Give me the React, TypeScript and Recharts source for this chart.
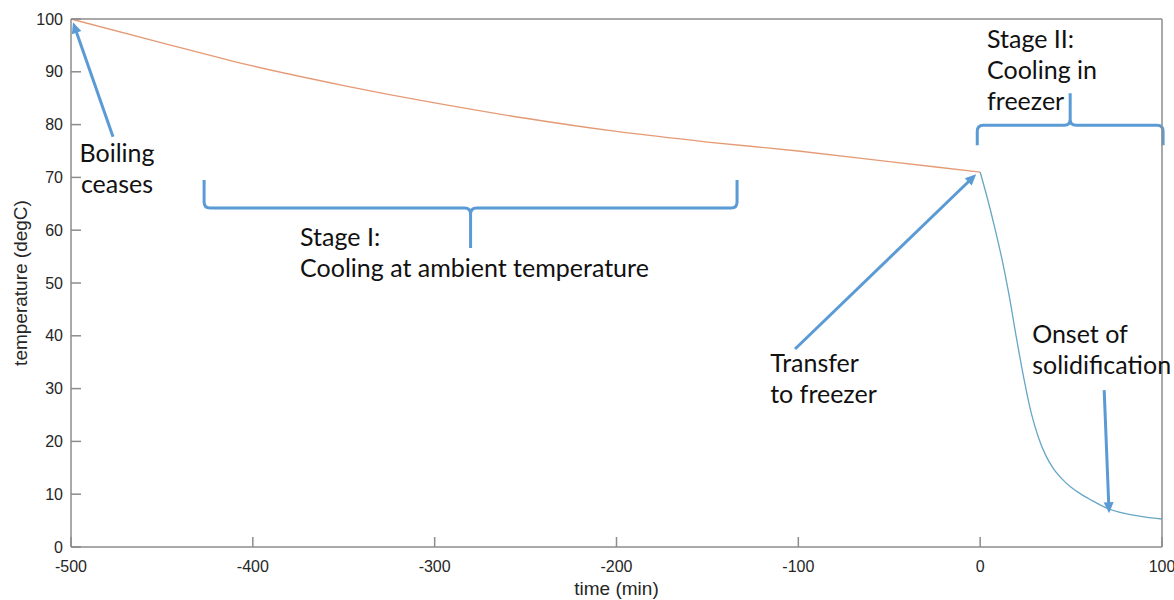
import React from "react";
import { LineChart, Line, XAxis, YAxis, ReferenceLine, ReferenceDot } from "recharts";

// Stage I: cooling at ambient temperature (time in min, temperature in degC)
const stage1Time = [-500, -450, -400, -350, -300, -250, -200, -150, -100, -50, 0];
const stage1Temp = [100, 95.5, 91.1, 87.4, 84.1, 81.2, 78.7, 76.7, 75.0, 73.0, 71.0];

// Stage II: cooling in freezer
const stage2Time = [0, 4, 8, 12, 16, 20, 24, 28, 32, 36, 40, 45, 50, 55, 60, 70, 80, 90, 100];
const stage2Temp = [71, 66, 60.5, 54.5, 47.5, 39.5, 32.0, 25.5, 20.8, 17.4, 15.0, 12.9, 11.3, 10.1, 9.1, 7.3, 6.3, 5.7, 5.3];

const xTicks = [-500, -400, -300, -200, -100, 0, 100];
const yTicks = [0, 10, 20, 30, 40, 50, 60, 70, 80, 90, 100];

// annotations, in data units
const arrows = [
    { from: { x: -476.9, y: 77.7 }, to: { x: -498.9, y: 99.4 } },
    { from: { x: -101.8, y: 37.5 }, to: { x: -2.2, y: 70.6 } },
    { from: { x: 68.2, y: 29.7 }, to: { x: 70.9, y: 6.4 } },
];

const braces = [
    { from: -426.8, to: -133.7, y: 64.2, ends: 28, tip: 40, dir: 1 },
    { from: -1.6, to: 100.6, y: 79.9, ends: 20, tip: 32, dir: -1 },
];

const notes = [
    { x: -474.7, y: 72.9, anchor: "middle", lines: ["Boiling", "ceases"] },
    { x: -374, y: 57.0, anchor: "start", lines: ["Stage I:", "Cooling at ambient temperature"] },
    { x: -115.5, y: 33.1, anchor: "start", lines: ["Transfer", "to freezer"] },
    { x: 3.8, y: 94.5, anchor: "start", lines: ["Stage II:", "Cooling in", "freezer"] },
    { x: 28.6, y: 38.6, anchor: "start", lines: ["Onset of", "solidification"] },
];

const stage1 = stage1Time.map((t, i) => ({ t, temp: stage1Temp[i] }));
const stage2 = stage2Time.map((t, i) => ({ t, temp: stage2Temp[i] }));

const ANNOT = "#5b9bd5";
const AXIS = "#8c8c8c";
const TICK_TEXT = "#262626";
const NOTE_FONT = "Lato, 'Open Sans', sans-serif";
const AXIS_FONT = "'Liberation Sans', Arial, sans-serif";

const arrowShape = (p: any) => {
    const { x1, y1, x2, y2 } = p;
    const dx = x2 - x1;
    const dy = y2 - y1;
    const len = Math.sqrt(dx * dx + dy * dy);
    const ux = dx / len;
    const uy = dy / len;
    const head = 11;
    const half = 5;
    const bx = x2 - ux * head;
    const by = y2 - uy * head;
    return (
        <g>
            <line x1={x1} y1={y1} x2={bx + ux * 2} y2={by + uy * 2} stroke={ANNOT} strokeWidth={3} />
            <polygon
                points={`${x2},${y2} ${bx - uy * half},${by + ux * half} ${bx + uy * half},${by - ux * half}`}
                fill={ANNOT}
            />
        </g>
    );
};

// curly brace drawn along a horizontal segment; dir 1 = tip points down
const braceShape = (ends: number, tip: number, dir: number) => (p: any) => {
    const { x1, x2, y1 } = p;
    const y = y1;
    const xm = (x1 + x2) / 2;
    const r = 6;
    const d = [
        `M ${x1} ${y - dir * ends}`,
        `L ${x1} ${y - dir * r}`,
        `Q ${x1} ${y} ${x1 + r} ${y}`,
        `L ${xm - r} ${y}`,
        `Q ${xm} ${y} ${xm} ${y + dir * r}`,
        `L ${xm} ${y + dir * tip}`,
        `M ${x2} ${y - dir * ends}`,
        `L ${x2} ${y - dir * r}`,
        `Q ${x2} ${y} ${x2 - r} ${y}`,
        `L ${xm + r} ${y}`,
        `Q ${xm} ${y} ${xm} ${y + dir * r}`,
    ].join(" ");
    return <path d={d} fill="none" stroke={ANNOT} strokeWidth={3} strokeLinejoin="round" />;
};

const noteShape = (lines: string[], anchor: string) => (p: any) => (
    <text x={p.cx} y={p.cy} textAnchor={anchor} fontFamily={NOTE_FONT} fontSize={25} fill="#111">
        {lines.map((l, i) => (
            <tspan key={i} x={p.cx} y={p.cy + i * 31}>
                {l}
            </tspan>
        ))}
    </text>
);

const App: React.FC = () => {
    const tickStyle = { fill: TICK_TEXT, fontSize: 16, fontFamily: AXIS_FONT };
    const lineStyle = { stroke: AXIS, strokeWidth: 1.5 };

    return (
        <div style={{ position: "absolute", left: 0, top: 0, background: "#fff" }}>
            <LineChart width={1174} height={600} margin={{ top: 18, right: 11, bottom: 0, left: 0 }}>
                <XAxis
                    dataKey="t"
                    type="number"
                    domain={[-500, 100]}
                    ticks={xTicks}
                    height={53}
                    tickSize={-10}
                    tickMargin={24}
                    axisLine={lineStyle}
                    tickLine={lineStyle}
                    tick={tickStyle}
                    label={{
                        value: "time (min)",
                        position: "insideBottom",
                        offset: 5,
                        fill: TICK_TEXT,
                        fontSize: 19,
                        fontFamily: AXIS_FONT,
                    }}
                />
                {/* box: top and right axes with inward ticks, no labels */}
                <XAxis
                    xAxisId="top"
                    orientation="top"
                    dataKey="t"
                    type="number"
                    domain={[-500, 100]}
                    ticks={xTicks}
                    height={1}
                    tickSize={-10}
                    axisLine={lineStyle}
                    tickLine={lineStyle}
                    tick={false}
                />
                <YAxis
                    type="number"
                    domain={[0, 100]}
                    ticks={yTicks}
                    width={71}
                    tickSize={-10}
                    tickMargin={18}
                    axisLine={lineStyle}
                    tickLine={lineStyle}
                    tick={tickStyle}
                    label={{
                        value: "temperature (degC)",
                        angle: -90,
                        position: "center",
                        dx: -15,
                        fill: TICK_TEXT,
                        fontSize: 19,
                        fontFamily: AXIS_FONT,
                    }}
                />
                <YAxis
                    yAxisId="right"
                    orientation="right"
                    type="number"
                    domain={[0, 100]}
                    ticks={yTicks}
                    width={1}
                    tickSize={-10}
                    axisLine={lineStyle}
                    tickLine={lineStyle}
                    tick={false}
                />

                <Line
                    data={stage1}
                    dataKey="temp"
                    type="monotone"
                    stroke="#e59a76"
                    strokeWidth={1.3}
                    dot={false}
                    isAnimationActive={false}
                />
                <Line
                    data={stage2}
                    dataKey="temp"
                    type="monotone"
                    stroke="#66a6c6"
                    strokeWidth={1.3}
                    dot={false}
                    isAnimationActive={false}
                />
                {/* invisible copy so the top/right axes get a domain */}
                <Line
                    xAxisId="top"
                    yAxisId="right"
                    data={stage1}
                    dataKey="temp"
                    stroke="none"
                    dot={false}
                    activeDot={false}
                    isAnimationActive={false}
                />

                {arrows.map((a, i) => (
                    <ReferenceLine
                        key={`arrow-${i}`}
                        segment={[a.from, a.to]}
                        ifOverflow="visible"
                        shape={arrowShape}
                    />
                ))}
                {braces.map((b, i) => (
                    <ReferenceLine
                        key={`brace-${i}`}
                        segment={[
                            { x: b.from, y: b.y },
                            { x: b.to, y: b.y },
                        ]}
                        ifOverflow="visible"
                        shape={braceShape(b.ends, b.tip, b.dir)}
                    />
                ))}
                {notes.map((n, i) => (
                    <ReferenceDot
                        key={`note-${i}`}
                        x={n.x}
                        y={n.y}
                        r={0}
                        ifOverflow="visible"
                        shape={noteShape(n.lines, n.anchor)}
                    />
                ))}
            </LineChart>
        </div>
    );
};

export default App;
